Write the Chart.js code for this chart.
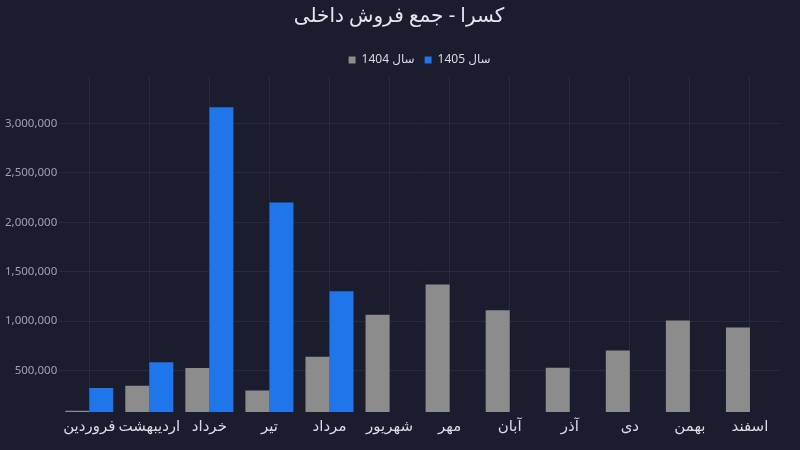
<!DOCTYPE html>
<html>
<head>
<meta charset="utf-8">
<script src="https://cdn.jsdelivr.net/npm/chart.js@4.4.0/dist/chart.umd.min.js"></script>
<style>
  html, body { margin: 0; padding: 0; background: #1b1c2e; }
  #wrap { width: 800px; height: 450px; }
  canvas { direction: rtl; }
</style>
</head>
<body>
<div id="wrap"><canvas id="sales-chart"></canvas></div>
<script>
/* ---------- DATA ---------- */
const months = ['فروردین', 'اردیبهشت', 'خرداد', 'تیر', 'مرداد', 'شهریور', 'مهر', 'آبان', 'آذر', 'دی', 'بهمن', 'اسفند'];
const sales1404 = [92000, 345000, 523000, 297000, 638000, 1063000, 1369000, 1109000, 527000, 702000, 1005000, 934000];
const sales1405 = [321000, 583000, 3166000, 2201000, 1301000, null, null, null, null, null, null, null];
const seriesLabels = ['سال 1404', 'سال 1405'];

const FONT = "'Noto Sans', 'DejaVu Sans', sans-serif";
const GRID = 'rgba(255,255,255,0.06)';

/* ---------- AXIS RANGE ---------- */
const allValues = sales1404.concat(sales1405).filter(v => v !== null);
const yMin = Math.min(...allValues) * 0.85;
const yMax = Math.max(...allValues) * 1.1;

new Chart(document.getElementById('sales-chart'), {
  type: 'bar',
  data: {
    labels: months,
    datasets: [
      {
        label: seriesLabels[0],
        data: sales1404,
        backgroundColor: '#8c8c8c',
        categoryPercentage: 0.8,
        barPercentage: 1.0
      },
      {
        label: seriesLabels[1],
        data: sales1405,
        backgroundColor: '#1f75ea',
        categoryPercentage: 0.8,
        barPercentage: 1.0
      }
    ]
  },
  options: {
    responsive: true,
    maintainAspectRatio: false,
    animation: false,
    layout: { padding: { left: 3, right: 5, bottom: 8, top: 4 } },
    plugins: {
      title: {
        display: true,
        text: 'کسرا - جمع فروش داخلی',
        color: '#e6e6ee',
        font: { family: FONT, size: 20, weight: 'normal' },
        padding: { top: 0, bottom: 16 }
      },
      legend: {
        fullSize: false,
        labels: {
          color: '#d8d8e0',
          boxWidth: 7,
          boxHeight: 7,
          padding: 10,
          font: { family: FONT, size: 12 }
        }
      },
      tooltip: { enabled: false }
    },
    scales: {
      x: {
        grid: { color: GRID, offset: false, drawTicks: false },
        border: { display: false },
        ticks: {
          color: '#dcdce4',
          padding: 6,
          font: { family: FONT, size: 15 },
          maxRotation: 0,
          autoSkip: false
        },
        // keep a 20px gap on the right of the plot
        afterFit: scale => { scale.paddingRight = Math.max(scale.paddingRight, 20); }
      },
      y: {
        min: yMin,
        max: yMax,
        grid: { color: GRID, drawTicks: false },
        border: { display: false },
        ticks: {
          includeBounds: false,
          padding: 2,
          color: '#a0a0ac',
          font: { family: FONT, size: 11.5 },
          callback: v => v.toLocaleString('en-US')
        }
      }
    }
  }
});
</script>
</body>
</html>
